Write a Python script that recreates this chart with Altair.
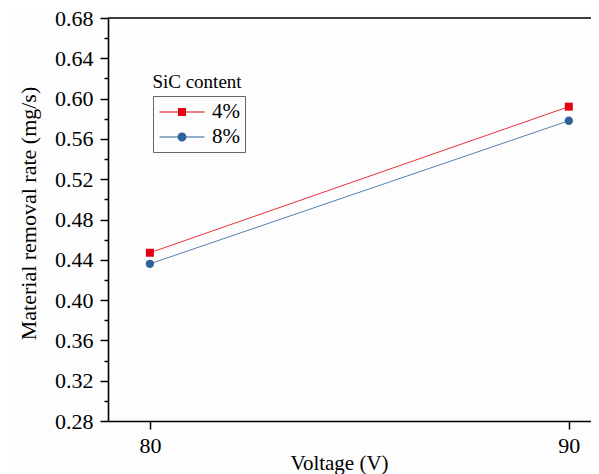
import altair as alt
import pandas as pd

# ---- data ----
voltages = [80, 90]
series = ["4%", "8%"]
rate_4 = [0.447, 0.592]
rate_8 = [0.436, 0.578]
y_ticks = [round(0.28 + 0.02 * i, 2) for i in range(21)]
x_ticks = [80, 90]
y_top = [0.68]

rows = []
for s, vals in zip(series, [rate_4, rate_8]):
    for v, r in zip(voltages, vals):
        rows.append({"Voltage": v, "Rate": r, "SiC": s})
df = pd.DataFrame(rows)

FONT = "Liberation Serif"
RED = "#e3000f"
BLUE = "#2d6399"
colors = {"4%": RED, "8%": BLUE}
marker_shapes = {"4%": "square", "8%": "circle"}

color_scale = alt.Scale(domain=series, range=[RED, BLUE])

# legend glyphs: a horizontal line with the marker in its middle (filled paths)
line_part = "M-2.25,-0.06H2.25V0.06H-2.25Z"
sq_path = line_part + "M-0.4,-0.4H0.4V0.4H-0.4Z"
ci_path = line_part + "M-0.45,0A0.45,0.45 0 1,1 0.45,0A0.45,0.45 0 1,1 -0.45,0Z"
legend_shape_scale = alt.Scale(domain=series, range=[sq_path, ci_path])

legend = alt.Legend(
    title=None,
    orient="none",
    legendX=45,
    legendY=78,
    symbolSize=400,
    symbolOpacity=1,
    symbolOffset=13,
    labelOffset=19,
    rowPadding=4,
    padding=5,
    strokeColor="#666666",
    labelFont=FONT,
    labelFontSize=21,
    labelColor="black",
)

x_enc = alt.X(
    "Voltage:Q",
    scale=alt.Scale(domain=[79, 90.53], nice=False, zero=False),
    axis=alt.Axis(
        title="Voltage (V)",
        values=x_ticks,
        format="d",
        grid=False,
        domainColor="black",
        domainWidth=1.6,
        tickColor="black",
        tickWidth=1.5,
        tickSize=8,
        labelFont=FONT,
        labelFontSize=22,
        labelColor="black",
        labelPadding=6,
        titleFont=FONT,
        titleFontSize=21,
        titleFontWeight="normal",
        titleColor="black",
        titleX=231,
        titleY=48,
        titleAlign="center",
        titleBaseline="alphabetic",
    ),
)

y_enc = alt.Y(
    "Rate:Q",
    scale=alt.Scale(domain=[0.28, 0.68], nice=False, zero=False),
    axis=alt.Axis(
        title="Material removal rate (mg/s)",
        values=y_ticks,
        labelExpr="round(datum.value*100) % 4 == 0 ? format(datum.value, '.2f') : ''",
        grid=False,
        domainColor="black",
        domainWidth=1.6,
        tickColor="black",
        tickWidth=1.5,
        tickSize={"condition": {"test": "round(datum.value*100) % 4 == 0", "value": 8}, "value": 4},
        labelFont=FONT,
        labelFontSize=22,
        labelColor="black",
        labelPadding=7,
        titleFont=FONT,
        titleFontSize=22,
        titleFontWeight="normal",
        titleColor="black",
        titlePadding=14,
        titleY=195,
    ),
)

base = alt.Chart(df)

layers = []
for s in series:
    sub = base.transform_filter(alt.datum.SiC == s)
    layers.append(
        sub.mark_line(strokeWidth=1, opacity=0.8, color=colors[s]).encode(x=x_enc, y=y_enc)
    )
for s in series:
    sub = base.transform_filter(alt.datum.SiC == s)
    layers.append(
        sub.mark_point(
            filled=True, size=64 if s == "4%" else 70, opacity=1,
            shape=marker_shapes[s], color=colors[s]
        ).encode(x=x_enc, y=y_enc)
    )

# legend-only layer: invisible marks, legend symbols kept opaque
legend_layer = base.mark_point(size=400, filled=True, opacity=0).encode(
    x=x_enc,
    y=y_enc,
    fill=alt.Fill("SiC:N", scale=color_scale, legend=legend),
    shape=alt.Shape("SiC:N", scale=legend_shape_scale, legend=legend),
)

top_border = alt.Chart(pd.DataFrame({"Rate": y_top})).mark_rule(
    color="black", strokeWidth=1.6
).encode(y=y_enc)

legend_title = alt.Chart(pd.DataFrame({"t": ["SiC content"]})).mark_text(
    font=FONT, fontSize=19, color="black", align="center", baseline="middle"
).encode(text="t:N", x=alt.value(89), y=alt.value(64))

chart = (
    alt.layer(*layers, legend_layer, top_border, legend_title)
    .properties(
        width=483,
        height=403,
        autosize=alt.AutoSizeParams(type="none"),
        padding={"left": 100, "top": 10, "right": 0, "bottom": 56},
        background="#fdfdfd",
    )
    .configure_view(stroke=None)
    .configure_axis(labelFont=FONT, titleFont=FONT)
    .configure_legend(labelFont=FONT)
)

chart.save("out.html", embed_options={"renderer": "svg", "actions": False})
